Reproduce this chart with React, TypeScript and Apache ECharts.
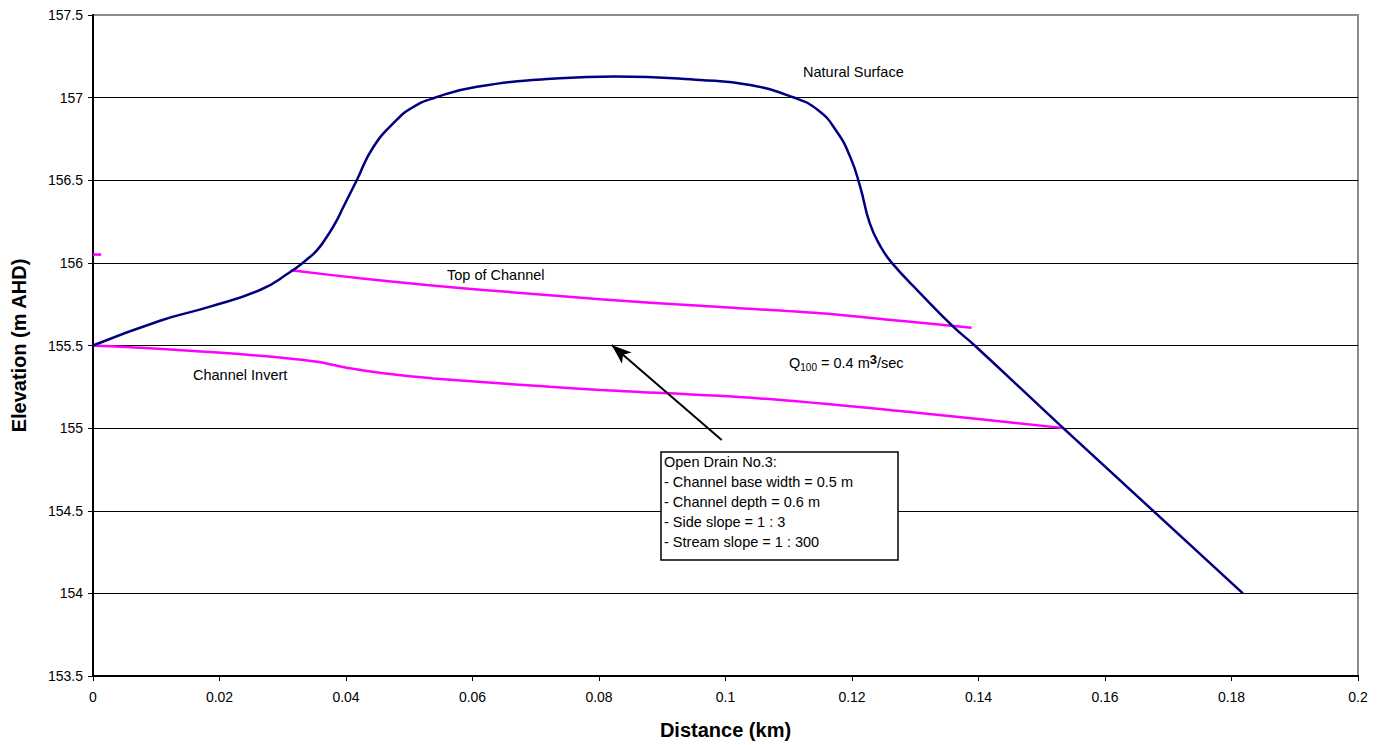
import React, { useEffect, useRef } from "react";
import * as echarts from "echarts";

// Long section of Open Drain No.3: distance (km) vs elevation (m AHD)
const naturalSurface: [number, number][] = [
  [0, 155.5],
  [0.0106, 155.65],
  [0.0185, 155.735],
  [0.0264, 155.836],
  [0.031, 155.94],
  [0.0338, 156.02],
  [0.0355, 156.08],
  [0.037, 156.16],
  [0.0383, 156.24],
  [0.0396, 156.34],
  [0.0417, 156.5],
  [0.0443, 156.7],
  [0.048, 156.865],
  [0.0505, 156.94],
  [0.0538, 156.996],
  [0.0607, 157.066],
  [0.0738, 157.117],
  [0.0825, 157.128],
  [0.096, 157.107],
  [0.1039, 157.076],
  [0.1107, 157.002],
  [0.1146, 156.925],
  [0.1175, 156.8],
  [0.1197, 156.643],
  [0.1213, 156.46],
  [0.1228, 156.24],
  [0.1245, 156.1],
  [0.1263, 156.0],
  [0.1308, 155.816],
  [0.136, 155.614],
  [0.1394, 155.5],
  [0.1534, 155.0],
  [0.1818, 154.0],
];

const topOfChannel: [number, number][] = [
  [0.0313, 155.955],
  [0.0422, 155.907],
  [0.0528, 155.866],
  [0.0622, 155.835],
  [0.0802, 155.78],
  [0.096, 155.74],
  [0.1149, 155.695],
  [0.1276, 155.65],
  [0.1389, 155.608],
];

const topOfChannelStub: [number, number][] = [
  [0, 156.05],
  [0.0013, 156.05],
];

const channelInvert: [number, number][] = [
  [0, 155.5],
  [0.009, 155.483],
  [0.0248, 155.443],
  [0.0354, 155.402],
  [0.0406, 155.362],
  [0.0459, 155.332],
  [0.0538, 155.301],
  [0.0723, 155.25],
  [0.0802, 155.231],
  [0.1055, 155.18],
  [0.1276, 155.103],
  [0.1535, 155.0],
];

// Arrow from the design note to the channel
const arrowTail: [number, number] = [0.0994, 154.928];
const arrowHead: [number, number] = [0.082, 155.503];

const noteLines: string[] = [
  "Open Drain No.3:",
  "- Channel base width = 0.5 m",
  "- Channel depth = 0.6 m",
  "- Side slope = 1 : 3",
  "- Stream slope = 1 : 300",
];

const FONT = "Arial, 'Liberation Sans', sans-serif";
const NAVY = "#000080";
const MAGENTA = "#FF00FF";
const NOTE_FONT = `14.5px ${FONT}`;

export default function App() {
  const ref = useRef<HTMLDivElement>(null);

  useEffect(() => {
    if (!ref.current) return;
    const chart = echarts.init(ref.current, null, { renderer: "svg" });

    const option: any = {
      animation: false,
      backgroundColor: "#ffffff",
      grid: {
        left: 93,
        right: 29,
        top: 15,
        bottom: 62,
        show: true,
        borderColor: "#8c8c8c",
        borderWidth: 2,
        backgroundColor: "#ffffff",
      },
      xAxis: {
        type: "value",
        min: 0,
        max: 0.2,
        interval: 0.02,
        name: "Distance (km)",
        nameLocation: "middle",
        nameGap: 44,
        nameTextStyle: { fontFamily: FONT, fontSize: 20, fontWeight: "bold", color: "#000" },
        axisLine: { show: true, lineStyle: { color: "#000", width: 2 } },
        axisTick: { show: true, length: 5, lineStyle: { color: "#000", width: 1 } },
        axisLabel: {
          fontFamily: FONT,
          fontSize: 14,
          color: "#000",
          margin: 14,
          formatter: (v: number) => String(parseFloat(v.toFixed(2))),
        },
        splitLine: { show: false },
      },
      yAxis: {
        type: "value",
        min: 153.5,
        max: 157.5,
        interval: 0.5,
        name: "Elevation (m AHD)",
        nameLocation: "middle",
        nameGap: 64,
        nameRotate: 90,
        nameTextStyle: { fontFamily: FONT, fontSize: 20, fontWeight: "bold", color: "#000" },
        axisLine: { show: true, lineStyle: { color: "#000", width: 2 } },
        axisTick: { show: true, length: 5, lineStyle: { color: "#000", width: 1 } },
        axisLabel: {
          fontFamily: FONT,
          fontSize: 14,
          color: "#000",
          margin: 10,
          formatter: (v: number) => String(parseFloat(v.toFixed(1))),
        },
        splitLine: {
          show: true,
          showMinLine: false,
          showMaxLine: false,
          lineStyle: { color: "#000", width: 1 },
        },
      },
      series: [
        {
          name: "Channel Invert",
          type: "line",
          data: channelInvert,
          showSymbol: false,
          smooth: 0.3,
          lineStyle: { color: MAGENTA, width: 2.5 },
          z: 3,
        },
        {
          name: "Top of Channel",
          type: "line",
          data: topOfChannel,
          showSymbol: false,
          smooth: 0.3,
          lineStyle: { color: MAGENTA, width: 2.5 },
          z: 3,
        },
        {
          name: "Top of Channel stub",
          type: "line",
          data: topOfChannelStub,
          showSymbol: false,
          lineStyle: { color: MAGENTA, width: 2.5 },
          z: 3,
        },
        {
          name: "Natural Surface",
          type: "line",
          data: naturalSurface,
          showSymbol: false,
          smooth: 0.5,
          lineStyle: { color: NAVY, width: 2.5 },
          z: 4,
          markLine: {
            silent: true,
            symbol: ["none", "arrow"],
            symbolSize: [11, 20],
            label: { show: false },
            lineStyle: { color: "#000", width: 2, type: "solid" },
            data: [[{ coord: arrowTail }, { coord: arrowHead }]],
          },
        },
      ],
      graphic: [
        {
          type: "text",
          left: 803,
          top: 64,
          style: { text: "Natural Surface", font: NOTE_FONT, fill: "#000" },
        },
        {
          type: "text",
          left: 447,
          top: 267,
          style: { text: "Top of Channel", font: NOTE_FONT, fill: "#000" },
        },
        {
          type: "text",
          left: 193,
          top: 367,
          style: { text: "Channel Invert", font: NOTE_FONT, fill: "#000" },
        },
        {
          type: "text",
          left: 789,
          top: 353,
          style: {
            text: "{a|Q}{sub|100}{a| = 0.4 m}{sup|3}{a|/sec}",
            rich: {
              a: { fontFamily: FONT, fontSize: 14.5, fill: "#000", lineHeight: 19, verticalAlign: "middle" },
              sub: { fontFamily: FONT, fontSize: 10, fill: "#000", lineHeight: 19, verticalAlign: "bottom" },
              sup: { fontFamily: FONT, fontSize: 13, fontWeight: "bold", fill: "#000", lineHeight: 19, verticalAlign: "top" },
            },
          },
        },
        {
          type: "rect",
          shape: { x: 661, y: 452, width: 237, height: 108 },
          style: { fill: "#ffffff", stroke: "#000", lineWidth: 1.5 },
          z: 10,
        },
        ...noteLines.map((t, i) => ({
          type: "text",
          left: 664,
          top: 454 + i * 20,
          z: 11,
          style: { text: t, font: NOTE_FONT, fill: "#000" },
        })),
      ],
    };

    chart.setOption(option);
    return () => chart.dispose();
  }, []);

  return (
    <div
      ref={ref}
      style={{ position: "absolute", left: 0, top: 0, width: 1387, height: 745, background: "#fff" }}
    />
  );
}
